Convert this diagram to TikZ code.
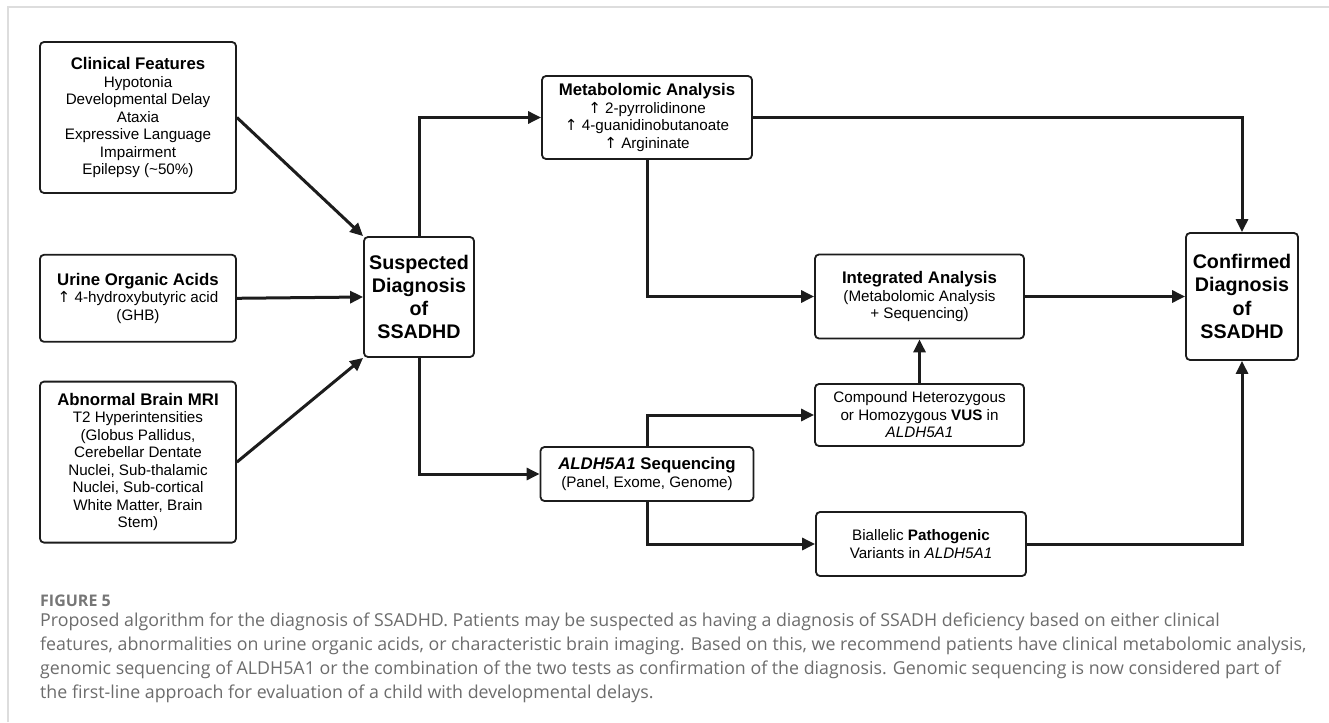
\documentclass[tikz,border=0pt]{standalone}
\usepackage{fontspec}
\setmainfont{Liberation Sans}
\newfontfamily\capfont{Open Sans}
\newfontfamily\symfont{DejaVu Sans}
\usepackage{tikz}
\usetikzlibrary{arrows.meta,positioning}
\definecolor{inkline}{RGB}{28,28,28}
\definecolor{framegray}{RGB}{221,221,221}
\definecolor{capgray}{RGB}{108,108,108}
\definecolor{figgray}{RGB}{118,118,118}
\newcommand{\boxtitle}[1]{{\fontsize{16.8}{17.5}\selectfont\bfseries #1}}
\newcommand{\upar}{{\symfont ↑}}

\begin{document}
\begin{tikzpicture}[
        x=1pt, y=-1pt,
        node distance=20pt,
        box/.style={rectangle, rounded corners=4pt, draw=inkline, line width=1.8pt, fill=white, inner sep=2pt, align=center, font=\fontsize{15.2}{17.5}\selectfont},
        bigbox/.style={box, font=\fontsize{19.7}{23.3}\selectfont\bfseries},
        arrow/.style={-{Triangle[length=13pt,width=12pt]}, line width=3pt, draw=inkline}
    ]
        \useasboundingbox (0,0) rectangle (1329,722);
        \draw[framegray, line width=2pt] (7.5,722) -- (7.5,7.5) -- (1329,7.5);

        % inputs
        \node[box, minimum width=196pt, minimum height=151pt] (clin) at (138,117.5) {\boxtitle{Clinical Features}\\Hypotonia\\Developmental Delay\\Ataxia\\Expressive Language\\Impairment\\Epilepsy (\textasciitilde50\%)};
        \node[box, minimum width=196pt, minimum height=87pt, below=60pt of clin] (urine) {\boxtitle{Urine Organic Acids}\\\upar\ 4-hydroxybutyric acid\\(GHB)};
        \node[box, minimum width=196pt, minimum height=161pt, below=38pt of urine] (mri) {\boxtitle{Abnormal Brain MRI}\\T2 Hyperintensities\\(Globus Pallidus,\\Cerebellar Dentate\\Nuclei, Sub-thalamic\\Nuclei, Sub-cortical\\White Matter, Brain\\Stem)};

        \node[bigbox, minimum width=110pt, minimum height=120pt] (susp) at (419,297) {Suspected\\Diagnosis\\of\\SSADHD};

        % tests
        \node[box, minimum width=210pt, minimum height=83pt] (meta) at (647,117.5) {\boxtitle{Metabolomic Analysis}\\\upar\ 2-pyrrolidinone\\\upar\ 4-guanidinobutanoate\\\upar\ Argininate};
        \node[box, minimum width=213pt, minimum height=54pt] (seq) at (647,474) {\boxtitle{\itshape ALDH5A1\/\upshape\ Sequencing}\\(Panel, Exome, Genome)};

        \node[box, minimum width=209pt, minimum height=84pt] (integ) at (919.5,296.5) {\boxtitle{Integrated Analysis}\\(Metabolomic Analysis\\+ Sequencing)};
        \node[box, minimum width=209pt, minimum height=62pt] (comp) at (919.5,415) {Compound Heterozygous\\or Homozygous \textbf{VUS} in\\\textit{ALDH5A1}};
        \node[box, minimum width=210pt, minimum height=64pt] (biall) at (921,544) {Biallelic \textbf{Pathogenic}\\Variants in \textit{ALDH5A1}};

        \node[bigbox, minimum width=112pt, minimum height=127pt] (conf) at (1242,296.5) {Confirmed\\Diagnosis\\of\\SSADHD};

        \foreach \src/\dst in {clin/north west, urine/west, mri/south west} {
            \draw[arrow] (\src.east) -- (susp.\dst);
        }
        \draw[arrow] (susp.north) |- (meta.west);
        \draw[arrow] (susp.south) |- (seq.west);
        \draw[arrow] (meta.east) -| (conf.north);
        \draw[arrow] (meta.south) |- (integ.west);
        \draw[arrow] (integ.east) -- (conf.west);
        \draw[arrow] (comp.north) -- (integ.south);
        \draw[arrow] (seq.north) |- (comp.west);
        \draw[arrow] (seq.south) |- (biall.west);
        \draw[arrow] (biall.east) -| (conf.south);

        % caption
        \node[anchor=base west, inner sep=0pt, text=figgray, font=\capfont\fontsize{16}{18}\selectfont\bfseries] (fig) at (40,606) {FIGURE 5};
        \node[anchor=north west, inner sep=0pt, align=left, text=capgray, font=\capfont\fontsize{17.8}{24}\selectfont] (cap) at (40,613) {Proposed algorithm for the diagnosis of SSADHD. Patients may be suspected as having a diagnosis of SSADH deficiency based on either clinical\\features, abnormalities on urine organic acids, or characteristic brain imaging. Based on this, we recommend patients have clinical metabolomic analysis,\\genomic sequencing of ALDH5A1 or the combination of the two tests as confirmation of the diagnosis. Genomic sequencing is now considered part of\\the first-line approach for evaluation of a child with developmental delays.};
    \end{tikzpicture}
\end{document}
